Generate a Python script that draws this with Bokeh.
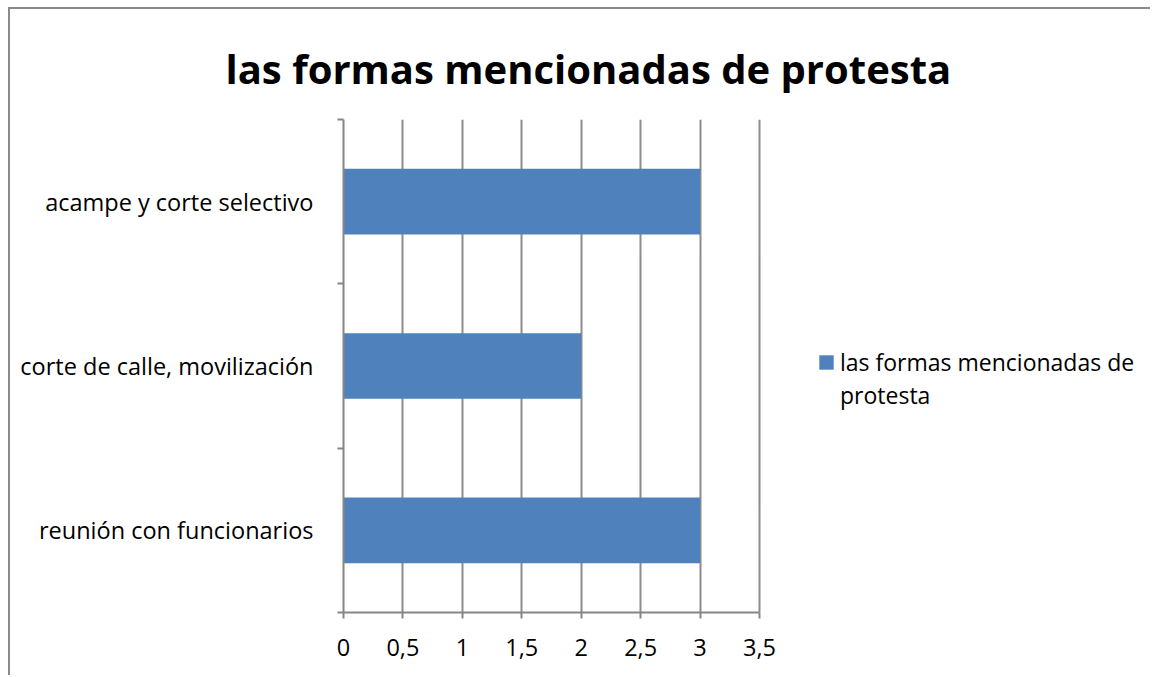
import textwrap
from bokeh.plotting import figure
from bokeh.models import Range1d, FixedTicker, Legend, LegendItem
from bokeh.embed import file_html
from bokeh.resources import INLINE

# ---- data ----
categories = ["reunión con funcionarios", "corte de calle, movilización", "acampe y corte selectivo"]
values = [3, 2, 3]
series_name = "las formas mencionadas de protesta"
title_text = "las formas mencionadas de protesta"
x_ticks = [0, 0.5, 1, 1.5, 2, 2.5, 3, 3.5]
x_tick_labels = ["0", "0,5", "1", "1,5", "2", "2,5", "3", "3,5"]

BAR = "#4F81BD"
GRID = "#8C8C8C"
AXIS = "#868686"
FONT = "Open Sans"

# layout (pixels)
W, H = 1142, 668
LEFT, TOP, BOTTOM = 333, 110, 65
AXIS_PX = 416                      # pixel length of the value axis 0..3.5
frame_w = W - LEFT
x_max = x_ticks[-1]
x_end = x_max * frame_w / AXIS_PX  # extend range so legend can live inside the frame

y_pos = [i + 0.5 for i in range(len(categories))]
y_bounds = [float(i) for i in range(len(categories) + 1)]

p = figure(width=W, height=H, output_backend="svg", toolbar_location=None,
           x_range=Range1d(0, x_end), y_range=Range1d(0, len(categories)),
           min_border_left=LEFT, min_border_right=0, min_border_top=TOP, min_border_bottom=BOTTOM)
p.styles = {"border-left": "2px solid #8a8a8a", "border-top": "2px solid #8a8a8a",
            "margin-left": "8px", "margin-top": "7px"}
p.outline_line_color = None
p.background_fill_color = "white"
p.border_fill_color = "white"

r = p.hbar(y=y_pos, right=values, left=0, height=0.4, fill_color=BAR, line_color=None)
# empty helper renderer for the wrapped second legend line
r_blank = p.hbar(y=[], right=[], left=0, height=0.4, fill_alpha=0, line_alpha=0)

# title
p.title.text = title_text
p.title.text_font = FONT
p.title.text_font_style = "bold"
p.title.text_font_size = "40px"
p.title.align = "left"
p.title.text_color = "black"
p.title.standoff = 48
p.title.offset = -118

AX_FS = "23.5px"

# x axis
xa = p.xaxis[0]
xa.bounds = (0, x_max)
xa.ticker = FixedTicker(ticks=x_ticks)
xa.major_label_overrides = {t: l for t, l in zip(x_ticks, x_tick_labels)}
xa.axis_line_color = AXIS
xa.axis_line_width = 2
xa.major_tick_line_color = AXIS
xa.major_tick_line_width = 2
xa.major_tick_in = 0
xa.major_tick_out = 6
xa.minor_tick_line_color = None
xa.major_label_text_font = FONT
xa.major_label_text_font_size = AX_FS
xa.major_label_text_color = "black"
xa.major_label_standoff = 20

# y axis
ya = p.yaxis[0]
ya.ticker = FixedTicker(ticks=y_pos, minor_ticks=y_bounds)
ya.major_label_overrides = {t: c for t, c in zip(y_pos, categories)}
ya.axis_line_color = AXIS
ya.axis_line_width = 2
ya.major_tick_line_color = None
ya.major_tick_in = 0
ya.major_tick_out = 0
ya.minor_tick_line_color = AXIS
ya.minor_tick_line_width = 2
ya.minor_tick_in = 0
ya.minor_tick_out = 6
ya.major_label_text_font = FONT
ya.major_label_text_font_size = AX_FS
ya.major_label_text_color = "black"
ya.major_label_standoff = 24

# grids
p.xgrid.ticker = FixedTicker(ticks=x_ticks)
p.xgrid.grid_line_color = GRID
p.xgrid.grid_line_width = 2
p.ygrid.grid_line_color = None

lines = textwrap.wrap(series_name, 25)
items = [LegendItem(label=lines[0], renderers=[r])]
for ln in lines[1:]:
    items.append(LegendItem(label=ln, renderers=[r_blank]))

legend = Legend(items=items,
                location=(474, 201), border_line_color=None, background_fill_alpha=0,
                label_text_font=FONT, label_text_font_size="23px", label_text_color="black",
                glyph_width=18, glyph_height=18, label_height=28, label_standoff=5,
                spacing=1, padding=0, margin=0)
p.add_layout(legend, "center")

open("out.html", "w").write(file_html(p, INLINE))
